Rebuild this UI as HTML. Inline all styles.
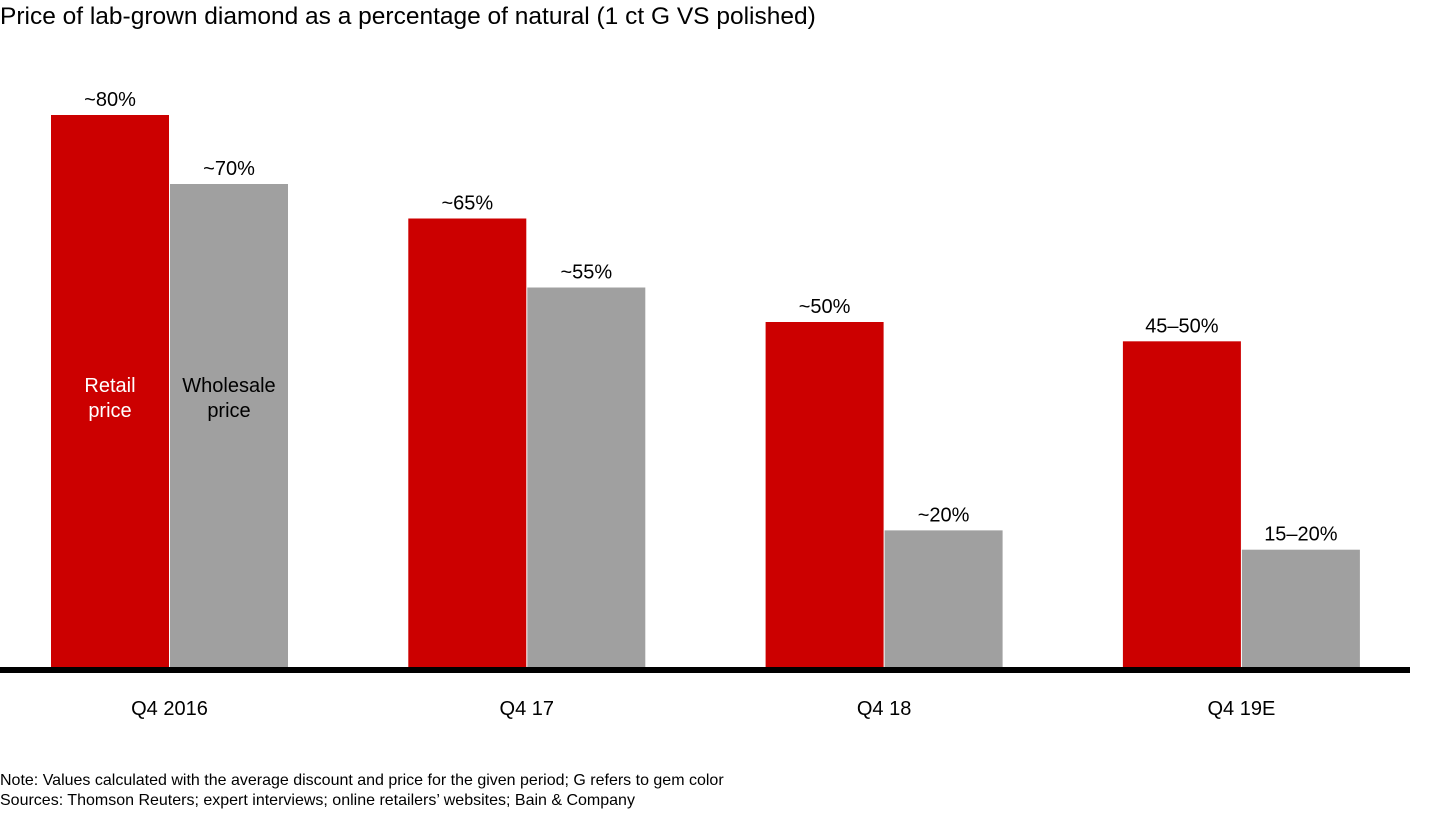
<!DOCTYPE html>
<html><head><meta charset="utf-8"><style>
html,body{margin:0;padding:0;background:#fff;}
body{width:1440px;height:810px;overflow:hidden;font-family:"Liberation Sans",Arial,sans-serif;}
</style></head><body>
<svg id="chart" width="1440" height="810" xmlns="http://www.w3.org/2000/svg" font-family="Liberation Sans, Arial, sans-serif">
<text x="0" y="24" font-size="24.5" fill="#000">Price of lab-grown diamond as a percentage of natural (1 ct G VS polished)</text>
<g id="bars"></g>
<rect x="0" y="667" width="1410" height="6" fill="#000"/>
<text x="110" y="392" font-size="20" fill="#fff" text-anchor="middle">Retail</text>
<text x="110" y="417" font-size="20" fill="#fff" text-anchor="middle">price</text>
<text x="229" y="392" font-size="20" fill="#000" text-anchor="middle">Wholesale</text>
<text x="229" y="417" font-size="20" fill="#000" text-anchor="middle">price</text>
<text x="0" y="785" font-size="16" fill="#000">Note: Values calculated with the average discount and price for the given period; G refers to gem color</text>
<text x="0" y="805" font-size="16" fill="#000">Sources: Thomson Reuters; expert interviews; online retailers’ websites; Bain &amp; Company</text>
</svg>
<script>
const categories = ["Q4 2016", "Q4 17", "Q4 18", "Q4 19E"];
const retailValues = [80, 65, 50, 47.2];
const wholesaleValues = [70, 55, 19.8, 17];
const retailLabels = ["~80%", "~65%", "~50%", "45–50%"];
const wholesaleLabels = ["~70%", "~55%", "~20%", "15–20%"];

const NS = "http://www.w3.org/2000/svg";
const baseY = 667, pxPer = 6.9;
const groupX0 = 51, groupStep = 357.3, barW = 118, grayOff = 119;
const y = v => baseY - v * pxPer;
const g = document.getElementById('bars');
const svg = document.getElementById('chart');
function mk(tag, attrs){const e=document.createElementNS(NS,tag);for(const k in attrs)e.setAttribute(k,attrs[k]);return e;}
categories.forEach((c,i)=>{
  const gx = groupX0 + i*groupStep;
  const r = mk('rect',{x:gx,y:y(retailValues[i]),width:barW,height:retailValues[i]*pxPer,fill:'#cc0000'});
  
  
  g.appendChild(r);
  const w = mk('rect',{x:gx+grayOff,y:y(wholesaleValues[i]),width:barW,height:wholesaleValues[i]*pxPer,fill:'#a0a0a0'});
  
  
  g.appendChild(w);
  const rt = mk('text',{x:gx+barW/2,y:y(retailValues[i])-9,'font-size':20,'text-anchor':'middle',fill:'#000'});
  rt.textContent = retailLabels[i];
  
  
  svg.appendChild(rt);
  const wt = mk('text',{x:gx+grayOff+barW/2,y:y(wholesaleValues[i])-9,'font-size':20,'text-anchor':'middle',fill:'#000'});
  wt.textContent = wholesaleLabels[i];
  
  
  svg.appendChild(wt);
  const ct = mk('text',{x:gx+(barW+grayOff)/2,y:715,'font-size':20,'text-anchor':'middle',fill:'#000'});
  ct.textContent = c;
  
  
  svg.appendChild(ct);
});
</script>
</body></html>
